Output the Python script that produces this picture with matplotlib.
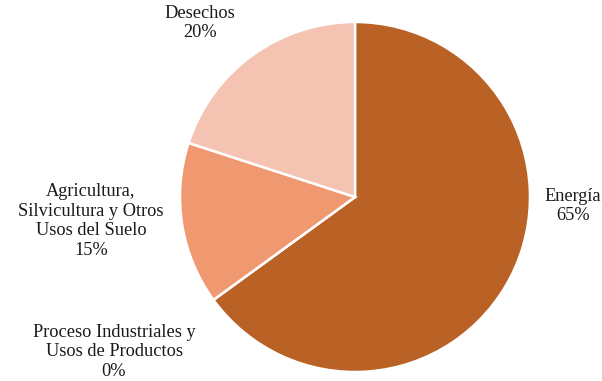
import matplotlib.pyplot as plt

plt.rcParams['font.family'] = ['Liberation Serif', 'DejaVu Serif']

labels = ['Energía', 'Proceso Industriales y\nUsos de Productos',
          'Agricultura,\nSilvicultura y Otros\nUsos del Suelo', 'Desechos']
values = [65, 0, 15, 20]
colors = ['#BA6125', '#A85A2A', '#F09870', '#F5C3B2']

# label centres in pixels of the 602x381 image
label_px = [(573, 206), (114, 352), (91, 221), (200, 23)]

cx, cy, r = 355, 197, 175

fig = plt.figure(figsize=(6.02, 3.81), dpi=100)
ax = fig.add_axes([0, 0, 1, 1])
ax.pie(values, colors=colors, startangle=90, counterclock=False, radius=1,
       wedgeprops=dict(edgecolor='white', linewidth=1.8))
ax.set_xlim(-cx / r, (602 - cx) / r)
ax.set_ylim(-(381 - cy) / r, cy / r)
ax.set_aspect('equal')
ax.axis('off')

for lab, v, (px, py) in zip(labels, values, label_px):
    ax.text((px - cx) / r, (cy - py) / r, f'{lab}\n{v}%', ha='center', va='center',
            fontsize=13.2, linespacing=1.2, color='#1a1a1a')

fig.savefig('out.png', dpi=100)
